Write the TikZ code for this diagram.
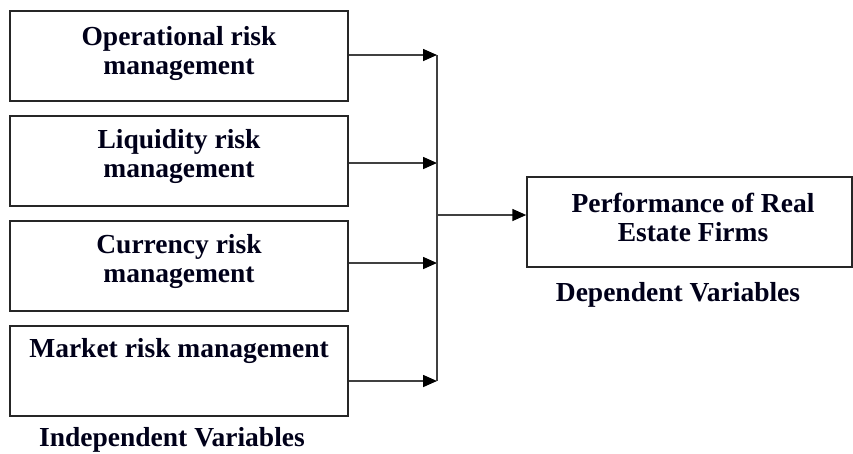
\documentclass[tikz,border=0pt]{standalone}
\usepackage{fontspec}
\setmainfont{Liberation Serif}
\usetikzlibrary{arrows.meta}
\begin{document}
\begin{tikzpicture}[x=1pt,y=-1pt,
  box/.style={draw=black!85, line width=1.5pt, minimum width=338pt, minimum height=90pt, inner sep=0pt},
  rbox/.style={draw=black!85, line width=1.5pt, minimum width=325pt, minimum height=90pt, inner sep=0pt},
  txt/.style={font=\fontsize{27.5}{29}\selectfont\bfseries, align=center, inner sep=0pt, text=black!90!blue},
  conn/.style={line width=1.6pt, draw=black!75},
  arr/.style={conn, -{Triangle[length=14pt,width=12pt,color=black]}}]
\useasboundingbox (0,0) rectangle (853,453);
\node[box] (b1) at (179,56) {};
\node[box] (b2) at (179,161) {};
\node[box] (b3) at (179,266) {};
\node[box] (b4) at (179,371) {};
\node[rbox] (r) at (689.5,222) {};
\node[txt, anchor=base] (t1) at (179,74) {Operational risk\\management};
\node[txt, anchor=base] (t2) at (179,177) {Liquidity risk\\management};
\node[txt, anchor=base] (t3) at (179,282) {Currency risk\\management};
\node[txt, anchor=base] (t4) at (179,357) {Market risk management};
\node[txt, anchor=base] (tr) at (693,241) {Performance of Real\\Estate Firms};
\node[txt, anchor=base] (li) at (172,446) {Independent Variables};
\node[txt, anchor=base] (ld) at (678,301) {Dependent Variables};
\coordinate (j1) at (437,55);
\coordinate (j2) at (437,163);
\coordinate (j3) at (437,263);
\coordinate (j4) at (437,381);
\coordinate (jm) at (437,215);
\draw[arr] (b1.east |- j1) -- (j1);
\draw[arr] (b2.east |- j2) -- (j2);
\draw[arr] (b3.east |- j3) -- (j3);
\draw[arr] (b4.east |- j4) -- (j4);
\draw[conn] (j1) -- (j4);
\draw[arr] (jm) -- (r.west |- jm);
\end{tikzpicture}
\end{document}
